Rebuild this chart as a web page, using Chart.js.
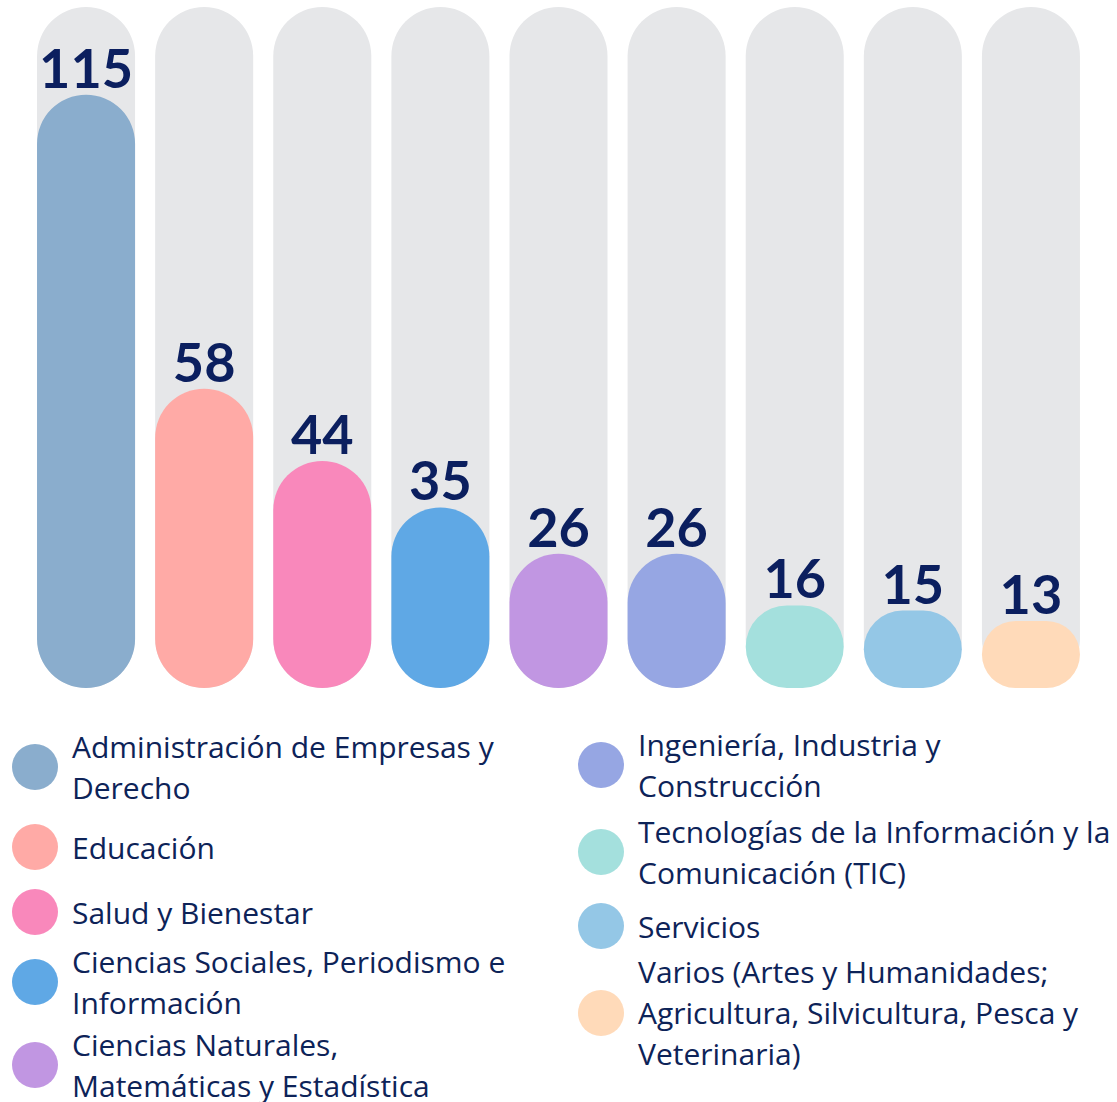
<!DOCTYPE html>
<html lang="es">
  <head>
    <meta charset="UTF-8" />
    <title>Matrícula por campo de estudio</title>
    <script src="https://cdn.jsdelivr.net/npm/chart.js@4.4.0/dist/chart.umd.min.js"></script>
    <style>
      body { margin: 0; background: #fff; }
      #wrap { position: relative; width: 1117px; height: 1102px; overflow: hidden; }
      #chartBox { position: absolute; left: 0; top: 0; width: 1117px; height: 700px; }
      .item { position: absolute; display: flex; align-items: center; font-family: 'Open Sans', sans-serif;
              font-size: 30px; line-height: 41px; color: #0d2358; white-space: pre-line; }
      .dot { width: 46px; height: 46px; border-radius: 50%; flex: none; margin-right: 14px; }
    </style>
  </head>
  <body>
    <div id="wrap">
      <div id="chartBox"><canvas id="myChart"></canvas></div>
      <div id="legend"></div>
    </div>

    <script>
      const categories = [
        'Administración de Empresas y\nDerecho',
        'Educación',
        'Salud y Bienestar',
        'Ciencias Sociales, Periodismo e\nInformación',
        'Ciencias Naturales,\nMatemáticas y Estadística',
        'Ingeniería, Industria y\nConstrucción',
        'Tecnologías de la Información y la\nComunicación (TIC)',
        'Servicios',
        'Varios (Artes y Humanidades;\nAgricultura, Silvicultura, Pesca y\nVeterinaria)'
      ];
      const values = [115, 58, 44, 35, 26, 26, 16, 15, 13];
      const trackValues = [132, 132, 132, 132, 132, 132, 132, 132, 132];
      const colors = ['#8aadcd', '#ffaaa6', '#f988bb', '#5fa8e5', '#c196e2', '#96a6e3', '#a4e0dd', '#94c7e6', '#ffdab9'];

      // legend layout: left edge and top edge of each item
      const legendSpots = [
        [12, 726], [12, 824], [12, 889], [12, 941], [12, 1024],
        [578, 724], [578, 811], [578, 903], [578, 951]
      ];

      const valueLabels = {
        id: 'valueLabels',
        afterDatasetsDraw(chart) {
          const ctx = chart.ctx;
          const meta = chart.getDatasetMeta(1);
          ctx.save();
          ctx.font = 'bold 54px Lato';
          ctx.fillStyle = '#0b1f5f';
          ctx.textAlign = 'center';
          ctx.textBaseline = 'alphabetic';
          meta.data.forEach((bar, i) => {
            ctx.fillText(values[i], bar.x, bar.y - 7);
          });
          ctx.restore();
        }
      };

      const ctx = document.getElementById('myChart').getContext('2d');
      const myChart = new Chart(ctx, {
        type: 'bar',
        data: {
          labels: categories,
          datasets: [
            {
              label: 'fondo',
              data: trackValues,
              backgroundColor: '#e6e7e9',
              borderRadius: 49,
              borderSkipped: false,
              grouped: false,
              order: 2,
              barPercentage: 0.83,
              categoryPercentage: 1
            },
            {
              label: 'Programas',
              data: values,
              backgroundColor: colors,
              borderRadius: 49,
              borderSkipped: false,
              grouped: false,
              order: 1,
              barPercentage: 0.83,
              categoryPercentage: 1
            }
          ]
        },
        options: {
          responsive: true,
          maintainAspectRatio: false,
          animation: false,
          layout: { padding: { left: 27, right: 27, top: 7, bottom: 12 } },
          plugins: { legend: { display: false }, tooltip: { enabled: false } },
          scales: {
            x: { display: false },
            y: { display: false, min: 0, max: 132 }
          }
        },
        plugins: [valueLabels]
      });

      const legend = document.getElementById('legend');
      categories.forEach((name, i) => {
        const item = document.createElement('div');
        item.className = 'item';
        item.style.left = legendSpots[i][0] + 'px';
        item.style.top = legendSpots[i][1] + 'px';
        const dot = document.createElement('span');
        dot.className = 'dot';
        dot.style.background = colors[i];
        const txt = document.createElement('span');
        txt.textContent = name;
        item.appendChild(dot);
        item.appendChild(txt);
        legend.appendChild(item);
      });
    </script>
  </body>
</html>
